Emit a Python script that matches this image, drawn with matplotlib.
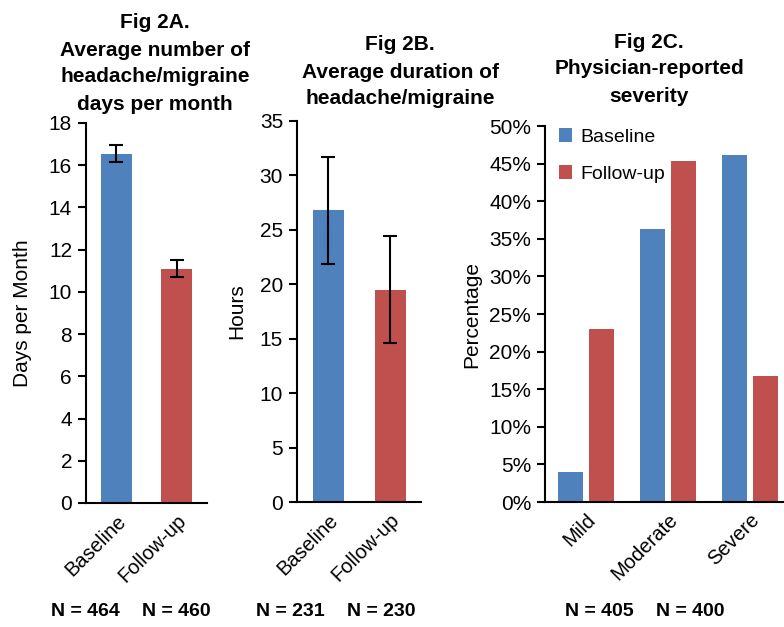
import matplotlib.pyplot as plt
import numpy as np
from matplotlib.ticker import FuncFormatter

# data
groups = ['Baseline', 'Follow-up']
days_mean = [16.55, 11.1]
days_err = [0.4, 0.4]
days_n = ['N = 464', 'N = 460']

hours_mean = [26.8, 19.5]
hours_err = [4.9, 4.9]
hours_n = ['N = 231', 'N = 230']

severity = ['Mild', 'Moderate', 'Severe']
sev_baseline = [4.0, 36.3, 46.1]
sev_followup = [23.0, 45.4, 16.8]
sev_n = ['N = 405', 'N = 400']

BLUE = '#4F81BD'
RED = '#C0504D'
FONT = ['Liberation Sans Narrow', 'Liberation Sans', 'DejaVu Sans']
plt.rcParams['font.family'] = FONT

W, H = 784, 627
fig = plt.figure(figsize=(W / 100, H / 100), dpi=100)


def px_axes(x0, x1, y0, y1):
    # y0 = top pixel, y1 = bottom pixel
    return fig.add_axes([x0 / W, 1 - y1 / H, (x1 - x0) / W, (y1 - y0) / H])


def style(ax):
    for s in ['top', 'right']:
        ax.spines[s].set_visible(False)
    for s in ['left', 'bottom']:
        ax.spines[s].set_linewidth(1.5)
    ax.tick_params(axis='y', length=6, width=1.5, labelsize=15, pad=4)
    ax.tick_params(axis='x', length=0, labelsize=14.5, pad=6)


def title(x, y, lines):
    for i, line in enumerate(lines):
        fig.text(x / W, 1 - (y + i * 27) / H, line, ha='center', va='center',
                 fontsize=15, fontweight='bold', family=FONT)


def nlabels(xs, labels):
    for x, lab in zip(xs, labels):
        fig.text(x / W, 1 - 612 / H, lab, ha='center', va='center',
                 fontsize=14, fontweight='bold', family=FONT)


# Fig 2A
axA = px_axes(86, 207, 123, 503)
x = np.arange(len(groups))
axA.bar(x, days_mean, width=0.51, color=[BLUE, RED])
axA.errorbar(x, days_mean, yerr=days_err, fmt='none', ecolor='black',
             elinewidth=1.5, capsize=5, capthick=1.5)
axA.set_xlim(-0.5, 1.5)
axA.set_ylim(0, 18)
axA.set_yticks(range(0, 19, 2))
axA.set_xticks(x)
axA.set_xticklabels(groups, rotation=45, ha='right', rotation_mode='anchor')
axA.set_ylabel('Days per Month', fontsize=15, labelpad=12)
style(axA)
title(155, 23, ['Fig 2A.', 'Average number of', 'headache/migraine', 'days per month'])
nlabels([85, 176], days_n)

# Fig 2B
axB = px_axes(297, 421, 121, 502)
axB.bar(x, hours_mean, width=0.5, color=[BLUE, RED])
axB.errorbar(x, hours_mean, yerr=hours_err, fmt='none', ecolor='black',
             elinewidth=1.5, capsize=5, capthick=1.5)
axB.set_xlim(-0.5, 1.5)
axB.set_ylim(0, 35)
axB.set_yticks(range(0, 36, 5))
axB.set_xticks(x)
axB.set_xticklabels(groups, rotation=45, ha='right', rotation_mode='anchor')
axB.set_ylabel('Hours', fontsize=15, labelpad=10)
style(axB)
title(400, 45, ['Fig 2B.', 'Average duration of', 'headache/migraine'])
nlabels([290, 381], hours_n)

# Fig 2C
axC = px_axes(545, 791, 126, 502)
xc = np.arange(len(severity))
axC.bar(xc - 0.195, sev_baseline, width=0.305, color=BLUE, label='Baseline')
axC.bar(xc + 0.195, sev_followup, width=0.305, color=RED, label='Follow-up')
axC.set_xlim(-0.5, 2.5)
axC.set_ylim(0, 50)
axC.set_yticks(range(0, 51, 5))
axC.yaxis.set_major_formatter(FuncFormatter(lambda v, p: f'{v:.0f}%'))
axC.set_xticks(xc)
axC.set_xticklabels(severity, rotation=45, ha='right', rotation_mode='anchor')
axC.set_ylabel('Percentage', fontsize=15, labelpad=6)
style(axC)
axC.legend(loc='upper left', bbox_to_anchor=(0.0, 1.03), frameon=False,
           fontsize=14, handlelength=0.7, handleheight=0.7, handletextpad=0.4,
           labelspacing=1.0, borderaxespad=0.3)
title(649, 42, ['Fig 2C.', 'Physician-reported', 'severity'])
nlabels([599, 690], sev_n)

fig.savefig('out.png', dpi=100)
